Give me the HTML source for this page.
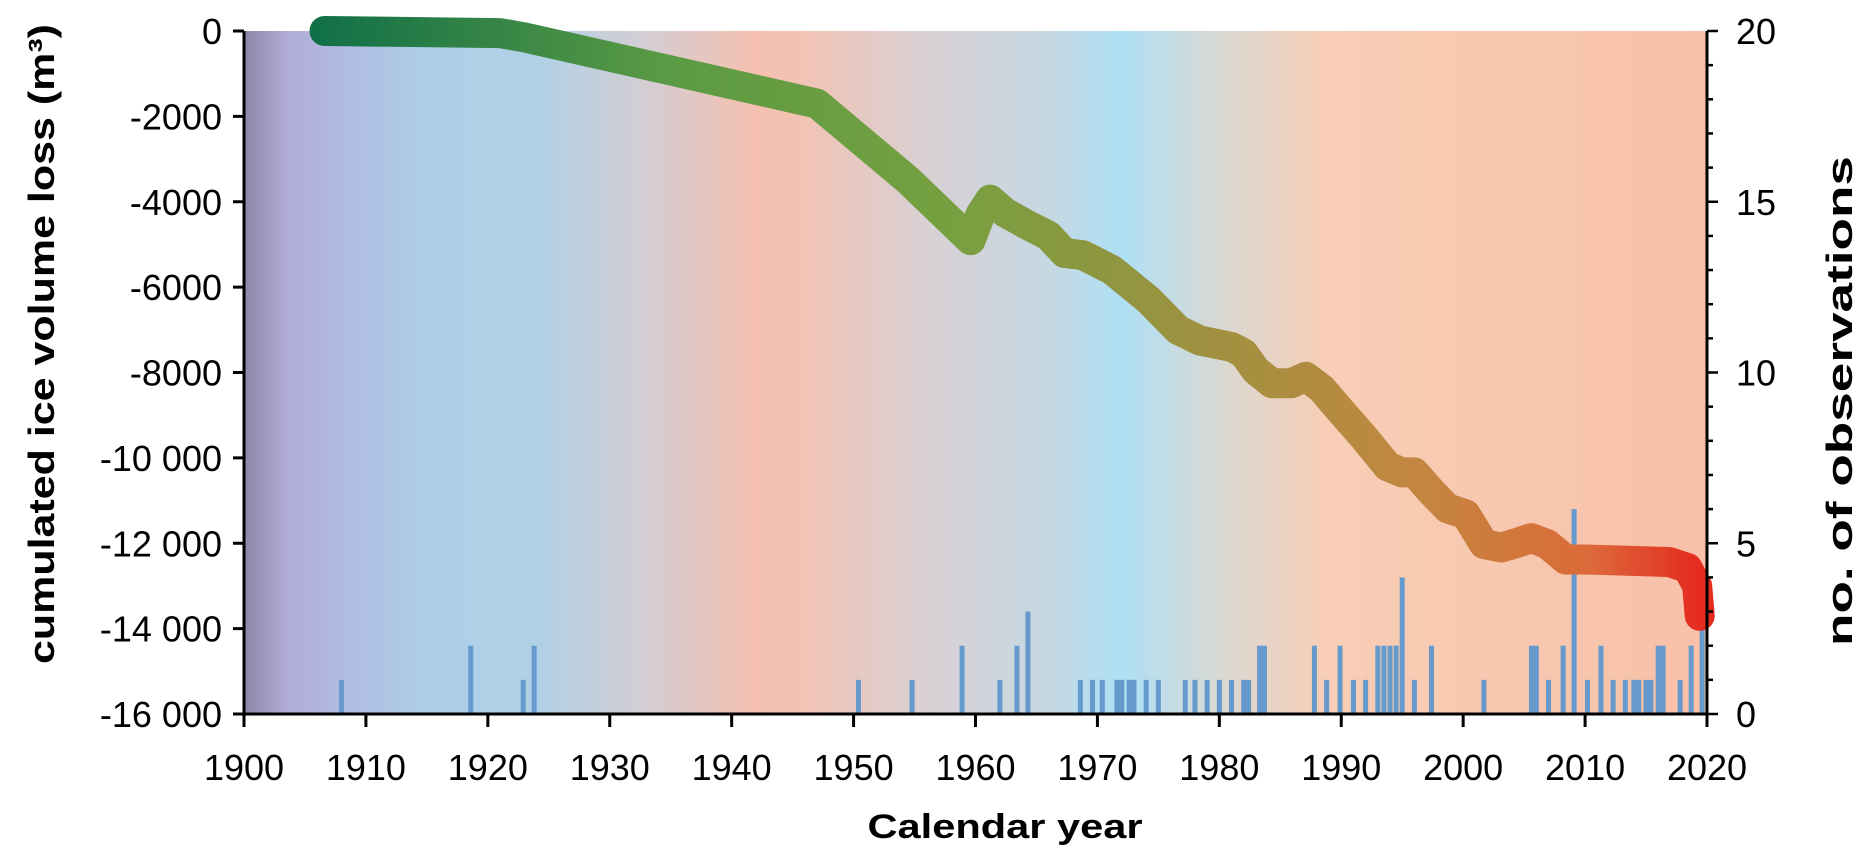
<!DOCTYPE html>
<html><head><meta charset="utf-8"><style>
html,body{margin:0;padding:0;background:#fff;}
svg{display:block;font-family:"Liberation Sans",Arial,sans-serif;}
</style></head><body>
<svg width="1867" height="861" viewBox="0 0 1867 861">
<defs>
<linearGradient id="bg" gradientUnits="userSpaceOnUse" x1="244" y1="0" x2="1707" y2="0">
<stop offset="0" stop-color="#8a87a8"/><stop offset="0.03" stop-color="#b1acd6"/>
<stop offset="0.07" stop-color="#b0bde2"/><stop offset="0.13" stop-color="#aecfe8"/>
<stop offset="0.2" stop-color="#b0d0e6"/><stop offset="0.27" stop-color="#d2ced4"/>
<stop offset="0.35" stop-color="#f5c0b0"/><stop offset="0.38" stop-color="#f2c3b4"/>
<stop offset="0.47" stop-color="#d8d1d5"/><stop offset="0.55" stop-color="#c6d8e2"/>
<stop offset="0.6" stop-color="#aee0f5"/><stop offset="0.67" stop-color="#dbd8d2"/>
<stop offset="0.74" stop-color="#f8ceb6"/><stop offset="1" stop-color="#f8c0a8"/>
</linearGradient>
<linearGradient id="lg" gradientUnits="userSpaceOnUse" x1="320" y1="0" x2="1700" y2="0">
<stop offset="0" stop-color="#127048"/><stop offset="0.25" stop-color="#5a9a44"/>
<stop offset="0.45" stop-color="#75a040"/><stop offset="0.6" stop-color="#969440"/>
<stop offset="0.8" stop-color="#c48640"/><stop offset="0.92" stop-color="#dc6a3a"/>
<stop offset="1" stop-color="#e52a20"/>
</linearGradient>
</defs>
<rect x="244" y="31" width="1463" height="683" fill="url(#bg)"/>
<g id="bars"></g>
<path id="curve" fill="none" stroke="url(#lg)" stroke-width="30" stroke-linecap="round" stroke-linejoin="round"/>
<g id="axes"></g>
<text x="54" y="344" transform="rotate(-90 54 344)" text-anchor="middle" font-size="36" font-weight="bold" textLength="640" lengthAdjust="spacingAndGlyphs">cumulated ice volume loss (m³)</text>
<text x="1852" y="401" transform="rotate(-90 1852 401)" text-anchor="middle" font-size="36" font-weight="bold" textLength="490" lengthAdjust="spacingAndGlyphs">no. of observations</text>
<text x="1005" y="838" text-anchor="middle" font-size="34" font-weight="bold" textLength="275" lengthAdjust="spacingAndGlyphs">Calendar year</text>
</svg>
<script>
const years=[1906.6,1921,1923,1947,1954.5,1959.6,1960.4,1961.2,1962.4,1964.3,1966,1967.3,1968.8,1971.2,1974.2,1976.6,1978.4,1981,1982,1983,1984.3,1985.9,1987.1,1988.4,1989.9,1991.8,1993.8,1995,1996,1997.3,1998.7,2000.2,2001.7,2003.1,2004.1,2005.6,2006.9,2008.4,2010,2016.9,2018.4,2019.2,2019.4];
const volumes=[0,-50,-150,-1700,-3500,-4900,-4300,-3950,-4250,-4550,-4800,-5200,-5250,-5600,-6300,-7000,-7250,-7400,-7550,-7950,-8250,-8250,-8100,-8380,-8880,-9500,-10200,-10340,-10340,-10760,-11180,-11320,-12020,-12100,-12020,-11880,-12020,-12380,-12380,-12440,-12580,-13000,-13700];
const obsYears=[1908,1918.6,1922.9,1923.8,1950.4,1954.8,1958.9,1962,1963.4,1964.3,1968.6,1969.6,1970.4,1971.6,1972,1972.6,1973,1974,1975,1977.2,1978,1979,1980,1981,1982,1982.4,1983.3,1983.7,1987.8,1988.8,1989.9,1991,1992,1993,1993.5,1994,1994.5,1995,1996,1997.4,2001.7,2005.6,2006,2007,2008.2,2009.1,2010.2,2011.3,2012.3,2013.3,2014,2014.4,2015,2015.4,2016,2016.4,2017.8,2018.7,2019.6];
const obsCounts=[1,2,1,2,1,1,2,1,2,3,1,1,1,1,1,1,1,1,1,1,1,1,1,1,1,1,2,2,2,1,2,1,1,2,2,2,2,4,1,2,1,2,2,1,2,6,1,2,1,1,1,1,1,1,2,2,1,2,3];
const xTicks=[1900,1910,1920,1930,1940,1950,1960,1970,1980,1990,2000,2010,2020];
const yTicks=[0,-2000,-4000,-6000,-8000,-10000,-12000,-14000,-16000];
const yTickLabels=["0","-2000","-4000","-6000","-8000","-10 000","-12 000","-14 000","-16 000"];
const y2Ticks=[0,5,10,15,20];
const NS="http://www.w3.org/2000/svg";
const X=y=>244+(y-1900)/120*1463;
const Y=v=>31+(v/-16000)*683;
const Y2=n=>714-n/20*683;
function mk(tag,attrs,parent){const e=document.createElementNS(NS,tag);for(const k in attrs)e.setAttribute(k,attrs[k]);parent.appendChild(e);return e;}
const bars=document.getElementById('bars');
obsYears.forEach((yr,i)=>{
 const r=mk('rect',{x:X(yr)-2.5,y:Y2(obsCounts[i]),width:5,height:714-Y2(obsCounts[i]),fill:'#6699cc'},bars);
 
 
});
document.getElementById('curve').setAttribute('d',years.map((yr,i)=>(i?'L':'M')+X(yr).toFixed(1)+' '+Y(volumes[i]).toFixed(1)).join(' '));
const ax=document.getElementById('axes');
mk('line',{x1:244,y1:31,x2:244,y2:714,stroke:'#000','stroke-width':3},ax);
mk('line',{x1:1707,y1:31,x2:1707,y2:714,stroke:'#000','stroke-width':3},ax);
mk('line',{x1:244,y1:714,x2:1707,y2:714,stroke:'#000','stroke-width':3},ax);
yTicks.forEach((v,i)=>{
 mk('line',{x1:233,y1:Y(v),x2:244,y2:Y(v),stroke:'#000','stroke-width':3},ax);
 const t=mk('text',{x:222,y:Y(v)+13,'text-anchor':'end','font-size':36},ax);t.textContent=yTickLabels[i];
 
 
});
for(let n=0;n<=20;n++){mk('line',{x1:1707,y1:Y2(n),x2:n%5?1713:1718,y2:Y2(n),stroke:'#000','stroke-width':2.5},ax);}
y2Ticks.forEach(n=>{
 const t=mk('text',{x:1736,y:Y2(n)+13,'font-size':36},ax);t.textContent=n;
 
 
});
xTicks.forEach(yr=>{
 mk('line',{x1:X(yr),y1:714,x2:X(yr),y2:727,stroke:'#000','stroke-width':3},ax);
 const t=mk('text',{x:X(yr),y:780,'text-anchor':'middle','font-size':36},ax);t.textContent=yr;
 
 
});
</script>
</body></html>
